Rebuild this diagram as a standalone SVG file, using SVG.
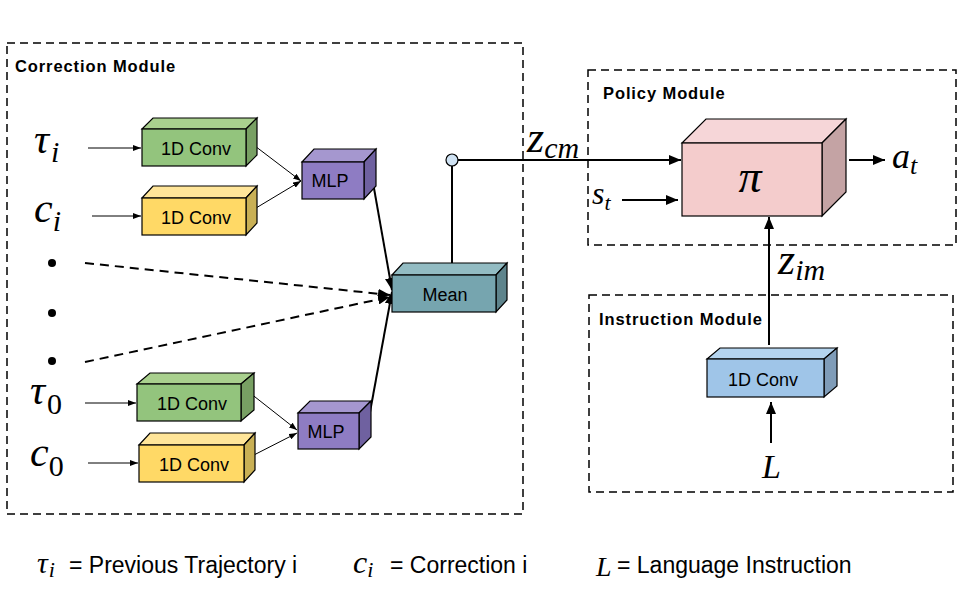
<svg xmlns="http://www.w3.org/2000/svg" width="960" height="600" viewBox="0 0 960 600">
<defs>
<style>
.mod{fill:none;stroke:#000;stroke-width:1.5;stroke-dasharray:8,5}
.modt{font-family:"Liberation Sans",Arial,sans-serif;font-weight:bold;font-size:16.5px;letter-spacing:0.9px;fill:#000}
.box{stroke:#000;stroke-width:1.2}
.lbl{font-family:"Liberation Sans",Arial,sans-serif;font-size:18px;fill:#000;text-anchor:middle}
.math{font-family:"Liberation Serif","DejaVu Serif",serif;font-style:italic;fill:#000}
.thin{stroke:#000;stroke-width:1;fill:none}
.thick{stroke:#000;stroke-width:2;fill:none}
.dash{stroke:#000;stroke-width:2;fill:none;stroke-dasharray:9,6}
.leg{font-family:"Liberation Sans",Arial,sans-serif;font-size:23px;fill:#000}
</style>
<marker id="as" markerWidth="8" markerHeight="6" refX="8" refY="3" orient="auto" markerUnits="userSpaceOnUse"><path d="M0,0 L8,3 L0,6 z" fill="#000"/></marker>
<marker id="al" markerWidth="12" markerHeight="10" refX="12" refY="5" orient="auto" markerUnits="userSpaceOnUse"><path d="M0,0 L12,5 L0,10 z" fill="#000"/></marker>
</defs>
<rect width="960" height="600" fill="#fff"/>

<g id="correction-module">
<rect class="mod" x="7" y="43" width="516" height="471"/>
<text class="modt" x="15" y="72">Correction Module</text>
</g>
<g id="policy-module">
<rect class="mod" x="588" y="70" width="368" height="175"/>
<text class="modt" x="603" y="99">Policy Module</text>
</g>
<g id="instruction-module">
<rect class="mod" x="589" y="295" width="364" height="197"/>
<text class="modt" x="599" y="325">Instruction Module</text>
</g>

<g id="connectors">
<line class="thin" x1="88" y1="148" x2="141" y2="148" marker-end="url(#as)"/>
<line class="thin" x1="92" y1="216" x2="141" y2="216" marker-end="url(#as)"/>
<line class="thin" x1="85" y1="403" x2="136" y2="403" marker-end="url(#as)"/>
<line class="thin" x1="88" y1="463" x2="138" y2="463" marker-end="url(#as)"/>
<line class="thin" x1="251" y1="143" x2="301" y2="181" marker-end="url(#as)"/>
<line class="thin" x1="251" y1="211" x2="301" y2="181" marker-end="url(#as)"/>
<line class="thin" x1="250" y1="393" x2="297" y2="430" marker-end="url(#as)"/>
<line class="thin" x1="250" y1="457" x2="297" y2="433" marker-end="url(#as)"/>
<line class="thick" x1="372" y1="177" x2="392" y2="290" marker-end="url(#al)"/>
<line class="thick" x1="368" y1="423" x2="392" y2="292" marker-end="url(#al)"/>
<line class="dash" x1="85" y1="263" x2="390" y2="295" marker-end="url(#al)"/>
<line class="dash" x1="85" y1="362" x2="390" y2="297" marker-end="url(#al)"/>
<line class="thick" x1="452" y1="270" x2="452" y2="160"/>
<line class="thick" x1="452" y1="160" x2="681" y2="160" marker-end="url(#al)"/>
<line class="thick" x1="622" y1="200" x2="678" y2="200" marker-end="url(#al)"/>
<line class="thick" x1="849" y1="160" x2="885" y2="160" marker-end="url(#al)"/>
<line class="thick" x1="769" y1="345" x2="769" y2="217" marker-end="url(#al)"/>
<line class="thick" x1="771" y1="443" x2="771" y2="402" marker-end="url(#al)"/>
<circle cx="452" cy="160" r="6" fill="#cfe2f3" stroke="#000" stroke-width="1.2"/>
</g>

<g id="conv-tau-i">
<polygon class="box" fill="#a9d08e" points="142,129 153,118 257,118 246,129"/>
<polygon class="box" fill="#78a063" points="246,129 257,118 257,155 246,166"/>
<rect class="box" fill="#93c47d" x="142" y="129" width="104" height="37"/>
<text class="lbl" x="196" y="155">1D Conv</text>
</g>
<g id="conv-c-i">
<polygon class="box" fill="#ffe599" points="142,198 153,186 257,186 246,198"/>
<polygon class="box" fill="#c9b055" points="246,198 257,186 257,223 246,235"/>
<rect class="box" fill="#ffd966" x="142" y="198" width="104" height="37"/>
<text class="lbl" x="196" y="224">1D Conv</text>
</g>
<g id="mlp-top">
<polygon class="box" fill="#a597cf" points="302,162 314,149 376,149 364,162"/>
<polygon class="box" fill="#6f61a0" points="364,162 376,149 376,186 364,199"/>
<rect class="box" fill="#8e7cc3" x="302" y="162" width="62" height="37"/>
<text class="lbl" x="330" y="187">MLP</text>
</g>
<g id="mean">
<polygon class="box" fill="#93bcc3" points="392,275 403,263 507,263 496,275"/>
<polygon class="box" fill="#5e848c" points="496,275 507,263 507,300 496,312"/>
<rect class="box" fill="#76a5af" x="392" y="275" width="104" height="37"/>
<text class="lbl" x="445" y="301">Mean</text>
</g>
<g id="conv-tau-0">
<polygon class="box" fill="#a9d08e" points="137,384 150,373 254,373 241,384"/>
<polygon class="box" fill="#78a063" points="241,384 254,373 254,410 241,421"/>
<rect class="box" fill="#93c47d" x="137" y="384" width="104" height="37"/>
<text class="lbl" x="192" y="410">1D Conv</text>
</g>
<g id="conv-c-0">
<polygon class="box" fill="#ffe599" points="139,445 150,433 255,433 244,445"/>
<polygon class="box" fill="#c9b055" points="244,445 255,433 255,470 244,482"/>
<rect class="box" fill="#ffd966" x="139" y="445" width="105" height="37"/>
<text class="lbl" x="194" y="471">1D Conv</text>
</g>
<g id="mlp-bottom">
<polygon class="box" fill="#a597cf" points="298,413 310,401 371,401 359,413"/>
<polygon class="box" fill="#6f61a0" points="359,413 371,401 371,437 359,449"/>
<rect class="box" fill="#8e7cc3" x="298" y="413" width="61" height="36"/>
<text class="lbl" x="326" y="438">MLP</text>
</g>
<g id="policy">
<polygon class="box" fill="#f6d6d8" points="682,143 706,119 846,119 822,143"/>
<polygon class="box" fill="#c4a3a4" points="822,143 846,119 846,192 822,216"/>
<rect class="box" fill="#f4cccc" x="682" y="143" width="140" height="73"/>
<text class="math" x="750" y="192" font-size="46" text-anchor="middle">π</text>
</g>
<g id="conv-instruction">
<polygon class="box" fill="#b4d4ef" points="707,359 720,348 837,348 824,359"/>
<polygon class="box" fill="#7f9cb8" points="824,359 837,348 837,386 824,397"/>
<rect class="box" fill="#9fc5e8" x="707" y="359" width="117" height="38"/>
<text class="lbl" x="763" y="386">1D Conv</text>
</g>

<g id="labels">
<text class="math" x="34" y="153" font-size="42">τ<tspan font-size="30" dx="2" dy="9">i</tspan></text>
<text class="math" x="34" y="222" font-size="42">c<tspan font-size="30" dy="9">i</tspan></text>
<text class="math" x="30" y="404" font-size="42">τ<tspan font-size="30" font-style="normal" dx="2" dy="10">0</tspan></text>
<text class="math" x="30" y="466" font-size="42">c<tspan font-size="30" font-style="normal" dy="10">0</tspan></text>
<circle cx="52" cy="263" r="4" fill="#000"/>
<circle cx="52" cy="313" r="4" fill="#000"/>
<circle cx="52" cy="361" r="4" fill="#000"/>
<text class="math" x="527" y="152" font-size="44">z<tspan font-size="30" dy="6">cm</tspan></text>
<text class="math" x="592" y="204" font-size="32">s<tspan font-size="22" dy="6">t</tspan></text>
<text class="math" x="892" y="168" font-size="36">a<tspan font-size="26" dy="6">t</tspan></text>
<text class="math" x="778" y="274" font-size="44">z<tspan font-size="30" dy="6">im</tspan></text>
<text class="math" x="762" y="478" font-size="34">L</text>
</g>

<g id="legend">
<text class="math" x="37" y="573" font-size="30">τ<tspan font-size="22" dx="1" dy="4">i</tspan></text>
<text class="leg" x="69" y="573">= Previous Trajectory i</text>
<text class="math" x="353" y="573" font-size="32">c<tspan font-size="22" dy="4">i</tspan></text>
<text class="leg" x="390" y="573">= Correction i</text>
<text class="math" x="596" y="576" font-size="28">L</text>
<text class="leg" x="617" y="573">= Language Instruction</text>
</g>
</svg>
